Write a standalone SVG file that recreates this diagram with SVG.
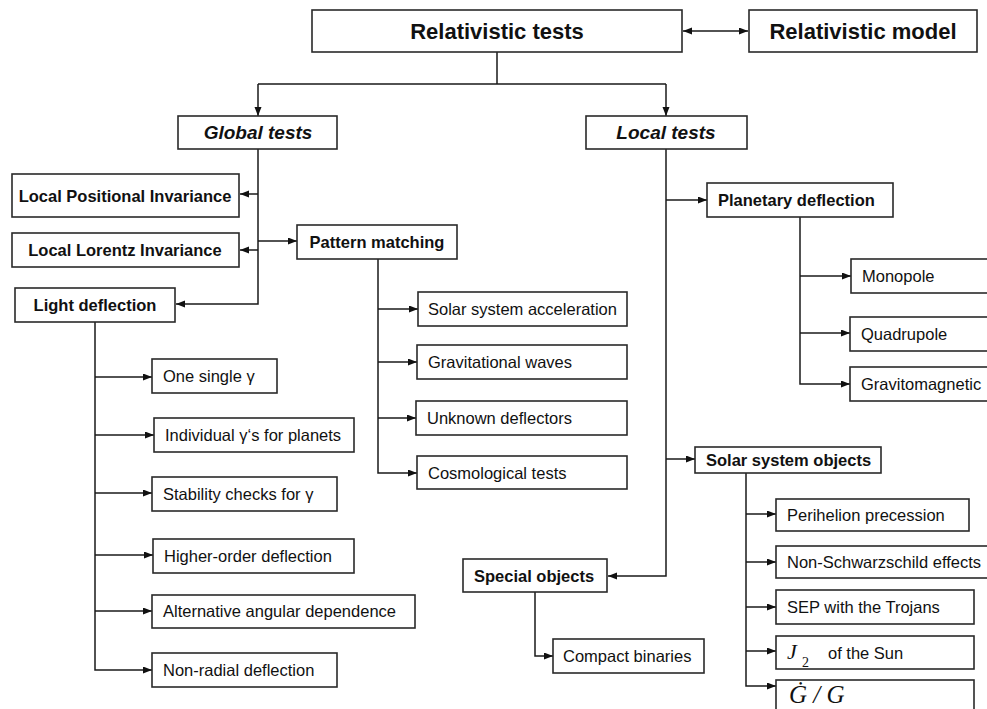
<svg xmlns="http://www.w3.org/2000/svg" width="987" height="709" viewBox="0 0 987 709">
<defs>
<marker id="ah" markerWidth="10" markerHeight="8" refX="9" refY="3.5" orient="auto-start-reverse" markerUnits="userSpaceOnUse">
<path d="M0,0 L9,3.5 L0,7 z" fill="#111"/>
</marker>
<style>
.box{fill:#fff;stroke:#2a2a2a;stroke-width:1.6}
.c{fill:none;stroke:#1a1a1a;stroke-width:1.5}
.a{marker-end:url(#ah)}
.t{font-family:"Liberation Sans",Arial,sans-serif;font-size:16.5px;fill:#111}
.b{font-weight:bold}
.m{text-anchor:middle}
.big{font-size:22px}
.mid{font-size:19px;font-style:italic}
.math{font-family:"Liberation Serif","Times New Roman",serif;font-style:italic;fill:#111}
.sub{font-family:"Liberation Serif","Times New Roman",serif;font-style:normal;fill:#111}
</style>
</defs>
<rect width="987" height="709" fill="#fff"/>

<g id="connectors">
<path class="c" d="M683,31 H748" marker-start="url(#ah)" marker-end="url(#ah)"/>
<path class="c" d="M497,52 V84 M258,84 H666"/>
<path class="c a" d="M258,84 V116"/>
<path class="c a" d="M666,84 V116"/>
<path class="c a" d="M258,149 V304 H176"/>
<path class="c a" d="M258,194 H240"/>
<path class="c a" d="M258,250 H240"/>
<path class="c a" d="M258,241 H297"/>
<path class="c a" d="M378,259 V473 H417"/>
<path class="c a" d="M378,309 H418"/>
<path class="c a" d="M378,362 H417"/>
<path class="c a" d="M378,418 H416"/>
<path class="c a" d="M95,322 V670 H152"/>
<path class="c a" d="M95,377 H152"/>
<path class="c a" d="M95,435 H154"/>
<path class="c a" d="M95,493 H152"/>
<path class="c a" d="M95,555 H153"/>
<path class="c a" d="M95,611 H152"/>
<path class="c a" d="M666,149 V576 H608"/>
<path class="c a" d="M666,200 H707"/>
<path class="c a" d="M666,459 H695"/>
<path class="c a" d="M800,217 V384 H850"/>
<path class="c a" d="M800,276 H851"/>
<path class="c a" d="M800,333 H850"/>
<path class="c a" d="M746,473 V686 H776"/>
<path class="c a" d="M746,514 H776"/>
<path class="c a" d="M746,562 H776"/>
<path class="c a" d="M746,607 H776"/>
<path class="c a" d="M746,651 H776"/>
<path class="c a" d="M535,592 V656 H553"/>
</g>

<g id="relativistic-tests"><rect class="box" x="312" y="10" width="370" height="42"/><text class="t b m big" x="497" y="39">Relativistic tests</text></g>
<g id="relativistic-model"><rect class="box" x="749" y="10" width="228" height="42"/><text class="t b m big" x="863" y="39">Relativistic model</text></g>
<g id="global-tests"><rect class="box" x="178" y="116" width="159" height="33"/><text class="t b m mid" x="258" y="139">Global tests</text></g>
<g id="local-tests"><rect class="box" x="586" y="116" width="161" height="33"/><text class="t b m mid" x="666" y="139">Local tests</text></g>

<g id="local-positional-invariance"><rect class="box" x="12" y="174" width="227" height="43"/><text class="t b m" x="125" y="202">Local Positional Invariance</text></g>
<g id="local-lorentz-invariance"><rect class="box" x="12" y="233" width="227" height="34"/><text class="t b m" x="125" y="256">Local Lorentz Invariance</text></g>
<g id="light-deflection"><rect class="box" x="15" y="288" width="160" height="34"/><text class="t b m" x="95" y="311">Light deflection</text></g>
<g id="pattern-matching"><rect class="box" x="297" y="225" width="160" height="34"/><text class="t b m" x="377" y="248">Pattern matching</text></g>

<g id="solar-system-acceleration"><rect class="box" x="418" y="292" width="209" height="34"/><text class="t" x="428" y="315">Solar system acceleration</text></g>
<g id="gravitational-waves"><rect class="box" x="417" y="345" width="210" height="34"/><text class="t" x="428" y="368">Gravitational waves</text></g>
<g id="unknown-deflectors"><rect class="box" x="416" y="401" width="211" height="34"/><text class="t" x="427" y="424">Unknown deflectors</text></g>
<g id="cosmological-tests"><rect class="box" x="417" y="456" width="210" height="33"/><text class="t" x="428" y="479">Cosmological tests</text></g>

<g id="one-single-gamma"><rect class="box" x="152" y="359" width="125" height="34"/><text class="t" x="163" y="382">One single γ</text></g>
<g id="individual-gammas"><rect class="box" x="154" y="418" width="200" height="34"/><text class="t" x="165" y="441">Individual γ‘s for planets</text></g>
<g id="stability-checks"><rect class="box" x="152" y="477" width="185" height="34"/><text class="t" x="163" y="500">Stability checks for γ</text></g>
<g id="higher-order-deflection"><rect class="box" x="153" y="539" width="201" height="34"/><text class="t" x="164" y="562">Higher-order deflection</text></g>
<g id="alternative-angular-dependence"><rect class="box" x="152" y="595" width="263" height="33"/><text class="t" x="163" y="617">Alternative angular dependence</text></g>
<g id="non-radial-deflection"><rect class="box" x="152" y="653" width="185" height="34"/><text class="t" x="163" y="676">Non-radial deflection</text></g>

<g id="planetary-deflection"><rect class="box" x="707" y="183" width="186" height="34"/><text class="t b" x="718" y="206">Planetary deflection</text></g>
<g id="monopole"><rect class="box" x="851" y="259" width="145" height="34"/><text class="t" x="862" y="282">Monopole</text></g>
<g id="quadrupole"><rect class="box" x="850" y="317" width="146" height="34"/><text class="t" x="861" y="340">Quadrupole</text></g>
<g id="gravitomagnetic"><rect class="box" x="850" y="367" width="146" height="34"/><text class="t" x="861" y="390">Gravitomagnetic</text></g>

<g id="solar-system-objects"><rect class="box" x="695" y="447" width="186" height="26"/><text class="t b" x="706" y="466">Solar system objects</text></g>
<g id="perihelion-precession"><rect class="box" x="776" y="499" width="193" height="32"/><text class="t" x="787" y="521">Perihelion precession</text></g>
<g id="non-schwarzschild-effects"><rect class="box" x="776" y="546" width="220" height="32"/><text class="t" x="787" y="568">Non-Schwarzschild effects</text></g>
<g id="sep-trojans"><rect class="box" x="776" y="590" width="198" height="34"/><text class="t" x="787" y="613">SEP with the Trojans</text></g>
<g id="j2-sun"><rect class="box" x="776" y="636" width="198" height="33"/><text class="math" x="787" y="659" font-size="22">J</text><text class="sub" x="802" y="667" font-size="14">2</text><text class="t" x="828" y="659">of the Sun</text></g>
<g id="gdot-g"><rect class="box" x="776" y="680" width="198" height="40"/><text class="math" x="789" y="703" font-size="25">Ġ / G</text></g>

<g id="special-objects"><rect class="box" x="463" y="559" width="144" height="33"/><text class="t b" x="474" y="582">Special objects</text></g>
<g id="compact-binaries"><rect class="box" x="553" y="639" width="151" height="34"/><text class="t" x="563" y="662">Compact binaries</text></g>
</svg>
